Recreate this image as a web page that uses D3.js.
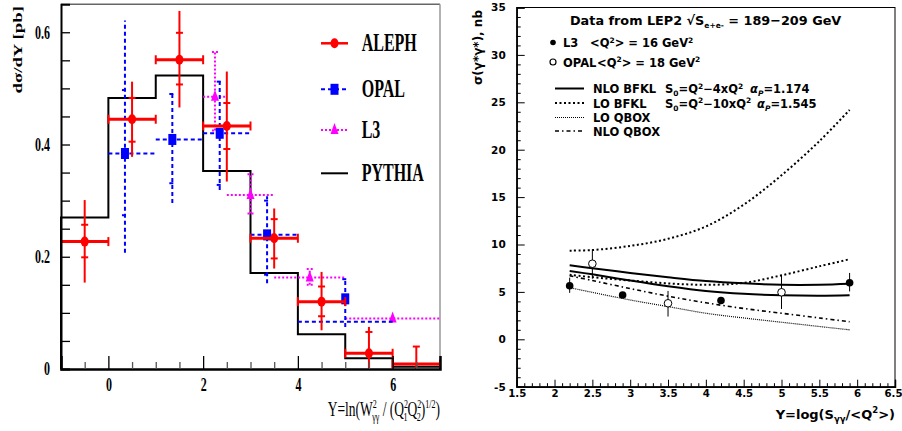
<!DOCTYPE html>
<html><head><meta charset="utf-8">
<script src="https://cdn.jsdelivr.net/npm/d3@7"></script>
<style>body{margin:0;background:#fff} svg{display:block}</style>
</head><body><svg id="c" width="902" height="431"></svg>
<script>
// ---------------- Left panel data ----------------
const pythiaBinLow  = [-1,0,1,2,3,4,5,6];
const pythiaBinHigh = [0,1,2,3,4,5,6,7];
const pythiaValues  = [0.270,0.483,0.523,0.353,0.171,0.062,0.019,0.004];

const alephX       = [-0.5,0.5,1.5,2.5,3.5,4.5,5.5,6.5];
const alephY       = [0.227,0.445,0.551,0.433,0.233,0.120,0.028,0.009];
const alephBinLow  = [-1,0,1,2,3,4,5,6];
const alephBinHigh = [0,1,2,3,4,5,6,7];
const alephTotLow  = [0.154,0.378,0.466,0.334,0.179,0.069,0.000,0.000];
const alephTotHigh = [0.301,0.512,0.638,0.530,0.286,0.173,0.075,0.040];
const alephStatLow = [0.199,0.405,0.507,0.392,0.197,0.094,null,null];
const alephStatHigh= [0.257,0.483,0.599,0.474,0.267,0.147,0.066,0.040];

const opalX        = [0.35,1.35,2.35,3.35,5.0];
const opalY        = [0.384,0.409,0.420,0.239,0.125];
const opalBinY     = [0.384,0.409,0.420,0.239,0.084];
const opalBinLow   = [0,1,2,3,4];
const opalBinHigh  = [1,2,3,4,6];
const opalTotLow   = [0.207,0.296,0.319,0.153,0.075];
const opalTotHigh  = [0.621,0.494,0.517,0.308,0.162];
const opalStatLow  = [0.274,0.331,0.328,0.168,null];
const opalStatHigh = [0.497,0.490,0.512,0.300,0.160];

const l3X          = [2.25,3.0,4.25,6.0];
const l3Y          = [0.485,0.310,0.163,0.090];
const l3BinLow     = [2.0,2.5,3.5,5.0];
const l3BinHigh    = [2.5,3.5,5.0,7.0];
const l3TotLow     = [0.425,0.277,0.150,null];
const l3TotHigh    = [0.565,0.347,0.178,null];

const leftYTicks = [0,0.2,0.4,0.6];
const leftYTickLabels = ["0","0.2","0.4","0.6"];
const leftXTicks = [0,2,4,6];
const leftXTickLabels = ["0","2","4","6"];
const leftLegend = ["ALEPH","OPAL","L3","PYTHIA"];

// ---------------- Right panel data ----------------
const curveX       = [2.2,2.5,3.0,3.5,4.0,4.5,5.0,5.5,5.9];
const nloBfklUpper = [7.8,7.5,7.0,6.55,6.15,5.9,5.75,5.75,5.85];
const nloBfklLower = [7.2,6.85,6.2,5.6,5.1,4.8,4.65,4.6,4.65];
const loBfklUpper  = [9.35,9.42,9.85,10.6,11.9,14.2,17.3,20.9,24.2];
const loBfklLower  = [6.8,6.55,6.2,5.9,5.75,5.95,6.75,7.7,8.45];
const loQbox       = [5.45,4.95,4.15,3.45,2.75,2.25,1.8,1.35,1.0];
const nloQbox      = [6.7,6.2,5.35,4.55,3.85,3.25,2.75,2.25,1.85];

const l3RX   = [2.2,2.9,4.2,5.9];
const l3RY   = [5.65,4.67,4.1,5.97];
const l3RLo  = [4.9,null,null,5.05];
const l3RHi  = [6.5,null,null,7.0];
const opalRX = [2.5,3.5,5.0];
const opalRY = [7.97,3.8,4.96];
const opalRLo= [6.4,2.4,3.2];
const opalRHi= [9.5,5.1,6.8];

const rightXTickLabels = ["1.5","2","2.5","3","3.5","4","4.5","5","5.5","6","6.5"];
const rightYTickLabels = ["-5","0","5","10","15","20","25","30","35"];

// ---------------- Drawing ----------------
const svg = d3.select("#c");
const SERIF = "'Liberation Serif','Times New Roman',serif";
const SANS  = "'DejaVu Sans',Verdana,sans-serif";
const SY = 1.5; // vertical stretch of the left panel text

// rich text helper: parts = [[text, "n"|"sub"|"sup", fontStyle?, dx?]]
function rich(t, parts, small, up, down){
  let cur = 0;
  parts.forEach(p=>{
    const target = p[1]==="sup" ? -up : (p[1]==="sub" ? down : 0);
    const sp = t.append("tspan").attr("dy", target-cur).text(p[0]);
    if(p[1]!=="n") sp.attr("font-size", small);
    if(p[2]) sp.attr("font-style", p[2]);
    if(p[3]) sp.attr("dx", p[3]);
    cur = target;
  });
  return t;
}

// ===== LEFT PANEL =====
const xL = d3.scaleLinear().domain([-1,7]).range([61,440]);
const yL = d3.scaleLinear().domain([0,0.65]).range([369,4.2]);
const gL = svg.append("g");

gL.append("line").attr("x1",61).attr("x2",440).attr("y1",4.2).attr("y2",4.2).attr("stroke","#666").attr("stroke-width",1.5);
gL.append("line").attr("x1",440).attr("x2",440).attr("y1",4.2).attr("y2",369).attr("stroke","#999").attr("stroke-width",1.5);

// PYTHIA histogram
const pyPts = [];
pythiaValues.forEach((v,i)=>{ pyPts.push([pythiaBinLow[i],v]); pyPts.push([pythiaBinHigh[i],v]); });
pyPts.unshift([pythiaBinLow[0],0]);
pyPts.push([pythiaBinHigh[pythiaBinHigh.length-1],0]);
gL.append("path").attr("d", d3.line().x(d=>xL(d[0])).y(d=>yL(d[1]))(pyPts))
  .attr("fill","none").attr("stroke","#000").attr("stroke-width",2);

// L3 (magenta dotted)
const gl3 = gL.append("g").attr("stroke","#ff00ff").attr("stroke-width",2).attr("stroke-dasharray","2 2").attr("fill","none");
l3X.forEach((x,i)=>{
  gl3.append("line").attr("x1",xL(l3BinLow[i])).attr("x2",xL(l3BinHigh[i])).attr("y1",yL(l3Y[i])).attr("y2",yL(l3Y[i]));
  if(l3TotLow[i]!==null){
    gl3.append("line").attr("x1",xL(x)).attr("x2",xL(x)).attr("y1",yL(l3TotLow[i])).attr("y2",yL(l3TotHigh[i]));
    [l3TotLow[i],l3TotHigh[i]].forEach(v=>gl3.append("line").attr("x1",xL(x)-3).attr("x2",xL(x)+3).attr("y1",yL(v)).attr("y2",yL(v)));
  }
});
l3X.forEach((x,i)=>{
  const cx=xL(x), cy=yL(l3Y[i]);
  gL.append("path").attr("d",`M${cx},${cy-7}L${cx+4},${cy+4}L${cx-4},${cy+4}Z`).attr("fill","#ff00ff");
});

// OPAL (blue dashed)
const gop = gL.append("g").attr("stroke","#0000ff").attr("stroke-width",2).attr("stroke-dasharray","4 3").attr("fill","none");
opalX.forEach((x,i)=>{
  gop.append("line").attr("x1",xL(opalBinLow[i])).attr("x2",xL(opalBinHigh[i])).attr("y1",yL(opalBinY[i])).attr("y2",yL(opalBinY[i]));
  gop.append("line").attr("x1",xL(x)).attr("x2",xL(x)).attr("y1",yL(opalTotLow[i])).attr("y2",yL(opalTotHigh[i]));
  [opalStatLow[i],opalStatHigh[i]].forEach(v=>{ if(v!==null) gop.append("line").attr("stroke-dasharray",null).attr("x1",xL(x)-3).attr("x2",xL(x)+3).attr("y1",yL(v)).attr("y2",yL(v)); });
});
opalX.forEach((x,i)=>{
  gL.append("rect").attr("x",xL(x)-4).attr("y",yL(opalY[i])-5.5).attr("width",8).attr("height",11).attr("fill","#0000ff");
});

// ALEPH (red solid)
const gal = gL.append("g").attr("stroke","#ff0000").attr("fill","none");
alephX.forEach((x,i)=>{
  const y=yL(alephY[i]);
  gal.append("line").attr("stroke-width",3).attr("x1",xL(alephBinLow[i])).attr("x2",xL(alephBinHigh[i])).attr("y1",y).attr("y2",y);
  [alephBinLow[i],alephBinHigh[i]].forEach(b=>{ if(b>-1) gal.append("line").attr("stroke-width",2).attr("x1",xL(b)).attr("x2",xL(b)).attr("y1",y-4.5).attr("y2",y+4.5); });
  gal.append("line").attr("stroke-width",2).attr("x1",xL(x)).attr("x2",xL(x)).attr("y1",yL(alephTotLow[i])).attr("y2",yL(alephTotHigh[i]));
  [alephStatLow[i],alephStatHigh[i]].forEach(v=>{ if(v!==null) gal.append("line").attr("stroke-width",2).attr("x1",xL(x)-3.5).attr("x2",xL(x)+3.5).attr("y1",yL(v)).attr("y2",yL(v)); });
});
alephX.forEach((x,i)=>{
  if(alephY[i]>0.01) gL.append("ellipse").attr("cx",xL(x)).attr("cy",yL(alephY[i])).attr("rx",4).attr("ry",5).attr("fill","#ff0000");
});

// axes
function styleStretchedText(sel, dyLocal){
  sel.each(function(){
    const t=d3.select(this);
    const x=+t.attr("x")||0, y=+t.attr("y")||0;
    t.attr("x",0).attr("y",0).attr("dy",dyLocal).attr("transform",`translate(${x},${y}) scale(1,${SY})`);
  });
}
const axL = gL.append("g").attr("transform","translate(61,0)")
  .call(d3.axisLeft(yL).tickValues(leftYTicks).tickFormat((d,i)=>leftYTickLabels[i]).tickSize(-9).tickPadding(11));
axL.select(".domain").attr("stroke-width",2);
axL.selectAll("line").attr("stroke-width",1.3);
axL.selectAll("text").attr("font-family",SERIF).attr("font-weight","bold").attr("font-size",12).call(styleStretchedText,"0.33em");
gL.append("g").attr("transform","translate(61,0)")
  .call(d3.axisLeft(yL).tickValues(d3.range(0.05,0.65,0.05).filter(v=>Math.abs(v*5-Math.round(v*5))>1e-6)).tickFormat("").tickSize(-9))
  .call(g=>g.select(".domain").remove()).selectAll("line").attr("stroke-width",1.3);

const axB = gL.append("g").attr("transform","translate(0,369)")
  .call(d3.axisBottom(xL).tickValues(leftXTicks).tickFormat((d,i)=>leftXTickLabels[i]).tickSize(-13).tickPadding(9));
axB.select(".domain").attr("stroke-width",2.5);
axB.selectAll("line").attr("stroke-width",1.3);
axB.selectAll("text").attr("font-family",SERIF).attr("font-weight","bold").attr("font-size",12).call(styleStretchedText,"0.71em");
gL.append("g").attr("transform","translate(0,369)")
  .call(d3.axisBottom(xL).tickValues(d3.range(-0.5,7,0.5).filter(v=>v%2!==0)).tickFormat("").tickSize(-7))
  .call(g=>g.select(".domain").remove()).selectAll("line").attr("stroke","#555").attr("stroke-width",1.3);

// axis titles (left)
gL.append("text").attr("transform",`translate(22,6) scale(1,1.45) rotate(-90)`)
  .attr("text-anchor","end").attr("font-family",SERIF).attr("font-weight","bold").attr("font-size",13)
  .text("dσ/dY [pb]");

const xlab = gL.append("text").attr("transform",`translate(440,416) scale(1,${SY})`)
  .attr("text-anchor","end").attr("font-family",SERIF).attr("font-size",13.5);
rich(xlab, [["Y=ln(W","n"],["2","sup"],["γγ","sub",null,-4.5],[" / (Q","n"],["2","sup"],["1","sub",null,-4.5],
            ["Q","n"],["2","sup"],["2","sub",null,-4.5],[")","n"],["1/2","sup"],[")","n"]], 8, 5.5, 3.5);

// legend (left)
const legY = [43.3,89.3,130,173.3];
const legColors = ["#ff0000","#0000ff","#ff00ff","#000000"];
const legDash = [null,"4 3","2 2",null];
leftLegend.forEach((name,i)=>{
  const y=legY[i];
  gL.append("line").attr("x1",321).attr("x2",348).attr("y1",y).attr("y2",y)
    .attr("stroke",legColors[i]).attr("stroke-width",i===0?2.5:2).attr("stroke-dasharray",legDash[i]);
  if(i===0) gL.append("ellipse").attr("cx",334.5).attr("cy",y).attr("rx",4).attr("ry",5).attr("fill","#ff0000");
  if(i===1) gL.append("rect").attr("x",330.5).attr("y",y-5.5).attr("width",8).attr("height",11).attr("fill","#0000ff");
  if(i===2) gL.append("path").attr("d",`M334.5,${y-7}L338.5,${y+4}L330.5,${y+4}Z`).attr("fill","#ff00ff");
  gL.append("text").attr("transform",`translate(361.7,${y}) scale(1,1.55)`).attr("dy","0.33em")
    .attr("font-family",SERIF).attr("font-weight","bold").attr("font-size",16).text(name);
});

// ===== RIGHT PANEL =====
const xR = d3.scaleLinear().domain([1.5,6.5]).range([516.7,895]);
const yR = d3.scaleLinear().domain([-5,35]).range([386.7,7.5]);
const gR = svg.append("g");
gR.append("rect").attr("x",516.7).attr("y",7.5).attr("width",895-516.7).attr("height",386.7-7.5)
  .attr("fill","none").attr("stroke","#000").attr("stroke-width",1);

const axRX = gR.append("g").attr("transform","translate(0,386.7)")
  .call(d3.axisBottom(xR).tickValues(d3.range(1.5,6.51,0.5)).tickFormat((d,i)=>rightXTickLabels[i]).tickSize(-7).tickPadding(5));
axRX.selectAll("text").attr("font-family",SANS).attr("font-weight","bold").attr("font-size",10.2).attr("dy","0.55em")
  .attr("dx",(d,i,n)=>i===n.length-1?-2:0);
gR.append("g").attr("transform","translate(0,386.7)")
  .call(d3.axisBottom(xR).tickValues(d3.range(15,66,1).filter(v=>v%5!==0).map(v=>v/10)).tickFormat("").tickSize(-3.5))
  .call(g=>g.select(".domain").remove());
const axRY = gR.append("g").attr("transform","translate(516.7,0)")
  .call(d3.axisLeft(yR).tickValues(d3.range(-5,36,5)).tickFormat((d,i)=>rightYTickLabels[i]).tickSize(-8).tickPadding(11));
axRY.selectAll("text").attr("font-family",SANS).attr("font-weight","bold").attr("font-size",10.5);
gR.append("g").attr("transform","translate(516.7,0)")
  .call(d3.axisLeft(yR).tickValues(d3.range(-5,36,1).filter(v=>v%5!==0)).tickFormat("").tickSize(-4))
  .call(g=>g.select(".domain").remove());
gR.selectAll(".domain").attr("stroke-width",1.5);

// curves
const ln = d3.line().curve(d3.curveCatmullRom).x(d=>xR(d[0])).y(d=>yR(d[1]));
const zipC = arr => curveX.map((x,i)=>[x,arr[i]]);
gR.append("path").attr("d",ln(zipC(loBfklUpper))).attr("fill","none").attr("stroke","#000").attr("stroke-width",2).attr("stroke-dasharray","2 2.5");
gR.append("path").attr("d",ln(zipC(loBfklLower))).attr("fill","none").attr("stroke","#000").attr("stroke-width",2).attr("stroke-dasharray","2 2.5");
gR.append("path").attr("d",ln(zipC(nloBfklUpper))).attr("fill","none").attr("stroke","#000").attr("stroke-width",2);
gR.append("path").attr("d",ln(zipC(nloBfklLower))).attr("fill","none").attr("stroke","#000").attr("stroke-width",2);
gR.append("path").attr("d",ln(zipC(nloQbox))).attr("fill","none").attr("stroke","#000").attr("stroke-width",1.6).attr("stroke-dasharray","4 3 1.5 3");
gR.append("path").attr("d",ln(zipC(loQbox))).attr("fill","none").attr("stroke","#000").attr("stroke-width",1.2).attr("stroke-dasharray","1 1");

// data points
l3RX.forEach((x,i)=>{
  if(l3RLo[i]!==null) gR.append("line").attr("x1",xR(x)).attr("x2",xR(x)).attr("y1",yR(l3RLo[i])).attr("y2",yR(l3RHi[i])).attr("stroke","#000").attr("stroke-width",1);
  gR.append("circle").attr("cx",xR(x)).attr("cy",yR(l3RY[i])).attr("r",3.8).attr("fill","#000");
});
opalRX.forEach((x,i)=>{
  gR.append("line").attr("x1",xR(x)).attr("x2",xR(x)).attr("y1",yR(opalRLo[i])).attr("y2",yR(opalRHi[i])).attr("stroke","#000").attr("stroke-width",1);
  gR.append("circle").attr("cx",xR(x)).attr("cy",yR(opalRY[i])).attr("r",3.8).attr("fill","#fff").attr("stroke","#000").attr("stroke-width",1);
});

// texts right
function rtext(x,y,size){ return gR.append("text").attr("x",x).attr("y",y).attr("font-family",SANS).attr("font-weight","bold").attr("font-size",size); }

rich(rtext(570,25,12.8), [["Data from LEP2  √S","n"],["e+e-","sub"],[" = 189−209 GeV","n"]], 7.5, 5, 3);

gR.append("circle").attr("cx",553).attr("cy",42.5).attr("r",2.8).attr("fill","#000");
gR.append("circle").attr("cx",553).attr("cy",62).attr("r",3).attr("fill","#fff").attr("stroke","#000").attr("stroke-width",1.2);
rtext(563,47,11.5).text("L3");
rich(rtext(590,47,11.5), [["<Q","n"],["2","sup"],["> = 16 GeV","n"],["2","sup"]], 7.5, 4.5, 3);
rtext(563,66.5,11.5).text("OPAL");
rich(rtext(597,66.5,11.5), [["<Q","n"],["2","sup"],["> = 18 GeV","n"],["2","sup"]], 7.5, 4.5, 3);

const legRY = [88.5,103,117.5,131];
const legRDash = [null,"2 2.5","1 1","4 3 1.5 3"];
const legRW = [2,2,1.2,1.6];
const legRNames = ["NLO BFKL","LO BFKL","LO QBOX","NLO QBOX"];
legRNames.forEach((n,i)=>{
  gR.append("line").attr("x1",555).attr("x2",584).attr("y1",legRY[i]).attr("y2",legRY[i]).attr("stroke","#000").attr("stroke-width",legRW[i]).attr("stroke-dasharray",legRDash[i]);
  rtext(593,legRY[i]+4.5,11.5).text(n);
});
rich(rtext(665,legRY[0]+4.5,11.5), [["S","n"],["0","sub"],["=Q","n"],["2","sup"],["−4xQ","n"],["2","sup"]], 7.5, 4.5, 3);
rich(rtext(665,legRY[1]+4.5,11.5), [["S","n"],["0","sub"],["=Q","n"],["2","sup"],["−10xQ","n"],["2","sup"]], 7.5, 4.5, 3);
rich(rtext(750,legRY[0]+4.5,11.5), [["α","n","italic"],["P","sub","italic"],["=1.174","n"]], 7.5, 4.5, 3);
rich(rtext(757,legRY[1]+4.5,11.5), [["α","n","italic"],["P","sub","italic"],["=1.545","n"]], 7.5, 4.5, 3);

// axis titles right
gR.append("text").attr("transform","translate(482,10) rotate(-90)").attr("text-anchor","end")
  .attr("font-family",SANS).attr("font-weight","bold").attr("font-size",12).text("σ(γ*γ*), nb");
rich(gR.append("text").attr("x",895).attr("y",419).attr("text-anchor","end").attr("font-family",SANS).attr("font-weight","bold").attr("font-size",13),
  [["Y=log(S","n"],["γγ","sub"],["/<Q","n"],["2","sup"],[">)","n"]], 8.5, 6, 3);
</script></body></html>
